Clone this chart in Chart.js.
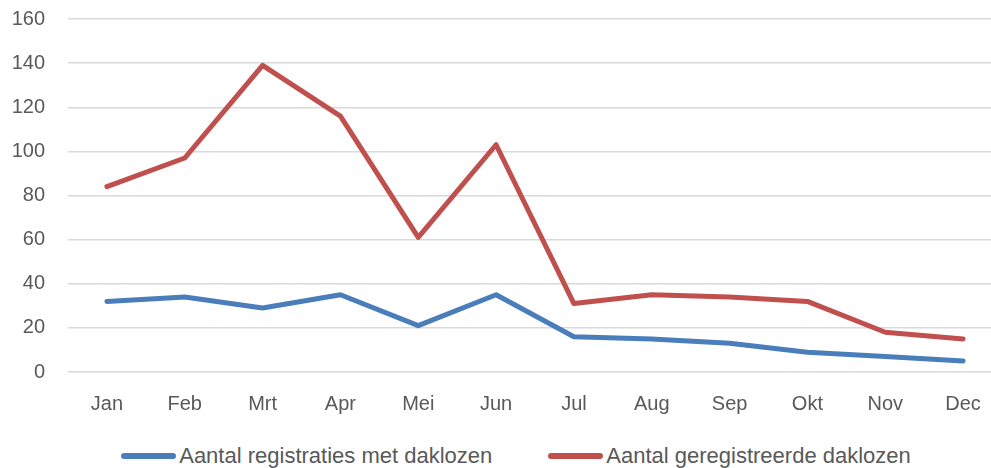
<!DOCTYPE html>
<html>
<head>
<meta charset="utf-8">
<script src="https://cdn.jsdelivr.net/npm/chart.js@4"></script>
<style>
  html, body { margin: 0; padding: 0; background: #fff; overflow: hidden; }
  #wrap { position: relative; width: 991px; height: 468px; overflow: hidden; }
  #chart { position: absolute; left: 0; top: -16px; }
  #legend {
    position: absolute; left: 0; top: 443px; width: 1032px;
    display: flex; justify-content: center; align-items: center;
    font-family: 'Liberation Sans', sans-serif; font-size: 22px; color: #595959;
    white-space: nowrap;
  }
  .item { display: flex; align-items: center; }
  .item + .item { margin-left: 56px; }
  .swatch { width: 55px; height: 6px; border-radius: 3px; margin-right: 3px; }
</style>
</head>
<body>
<div id="wrap">
  <canvas id="chart" width="1002" height="446"></canvas>
  <div id="legend"></div>
</div>
<script>
const months = ['Jan', 'Feb', 'Mrt', 'Apr', 'Mei', 'Jun', 'Jul', 'Aug', 'Sep', 'Okt', 'Nov', 'Dec'];
const registraties = [32, 34, 29, 35, 21, 35, 16, 15, 13, 9, 7, 5];
const daklozen = [84, 97, 139, 116, 61, 103, 31, 35, 34, 32, 18, 15];
const yTicks = [0, 20, 40, 60, 80, 100, 120, 140, 160];

const tickFont = { family: 'Liberation Sans', size: 20 };

// Chart
const ctx = document.getElementById('chart').getContext('2d');
const chart = new Chart(ctx, {
    type: 'line',
    data: {
        labels: months,
        datasets: [{
            label: 'Aantal registraties met daklozen',
            data: registraties,
            borderColor: '#4a7ebb',
            backgroundColor: '#4a7ebb',
            borderWidth: 5,
            pointRadius: 0,
            tension: 0,
            borderCapStyle: 'round',
            borderJoinStyle: 'round'
        }, {
            label: 'Aantal geregistreerde daklozen',
            data: daklozen,
            borderColor: '#c0504d',
            backgroundColor: '#c0504d',
            borderWidth: 5,
            pointRadius: 0,
            tension: 0,
            borderCapStyle: 'round',
            borderJoinStyle: 'round'
        }]
    },
    options: {
        responsive: false,
        animation: false,
        layout: { padding: { top: -7, right: 0, left: 0, bottom: 0 } },
        plugins: {
            tooltip: { enabled: false },
            legend: { display: false }
        },
        scales: {
            x: {
                offset: true,
                grid: { display: false },
                border: { display: false },
                ticks: { color: '#595959', font: tickFont, padding: 12, maxRotation: 0 },
                afterFit: s => { s.height = 58; }
            },
            y: {
                min: 0,
                max: 160,
                afterBuildTicks: s => { s.ticks = yTicks.map(v => ({ value: v })); },
                grid: { color: '#d9d9d9', lineWidth: 1.5, drawTicks: false },
                border: { display: false },
                ticks: { color: '#595959', font: tickFont, padding: 23 },
                afterFit: s => { s.width = 68; }
            }
        }
    }
});

// HTML legend
const legendBox = document.getElementById('legend');
chart.data.datasets.forEach(ds => {
    const item = document.createElement('div');
    item.className = 'item';
    item.innerHTML = `<span class="swatch" style="background:${ds.borderColor}"></span><span>${ds.label}</span>`;
    legendBox.appendChild(item);
});
</script>
</body>
</html>
